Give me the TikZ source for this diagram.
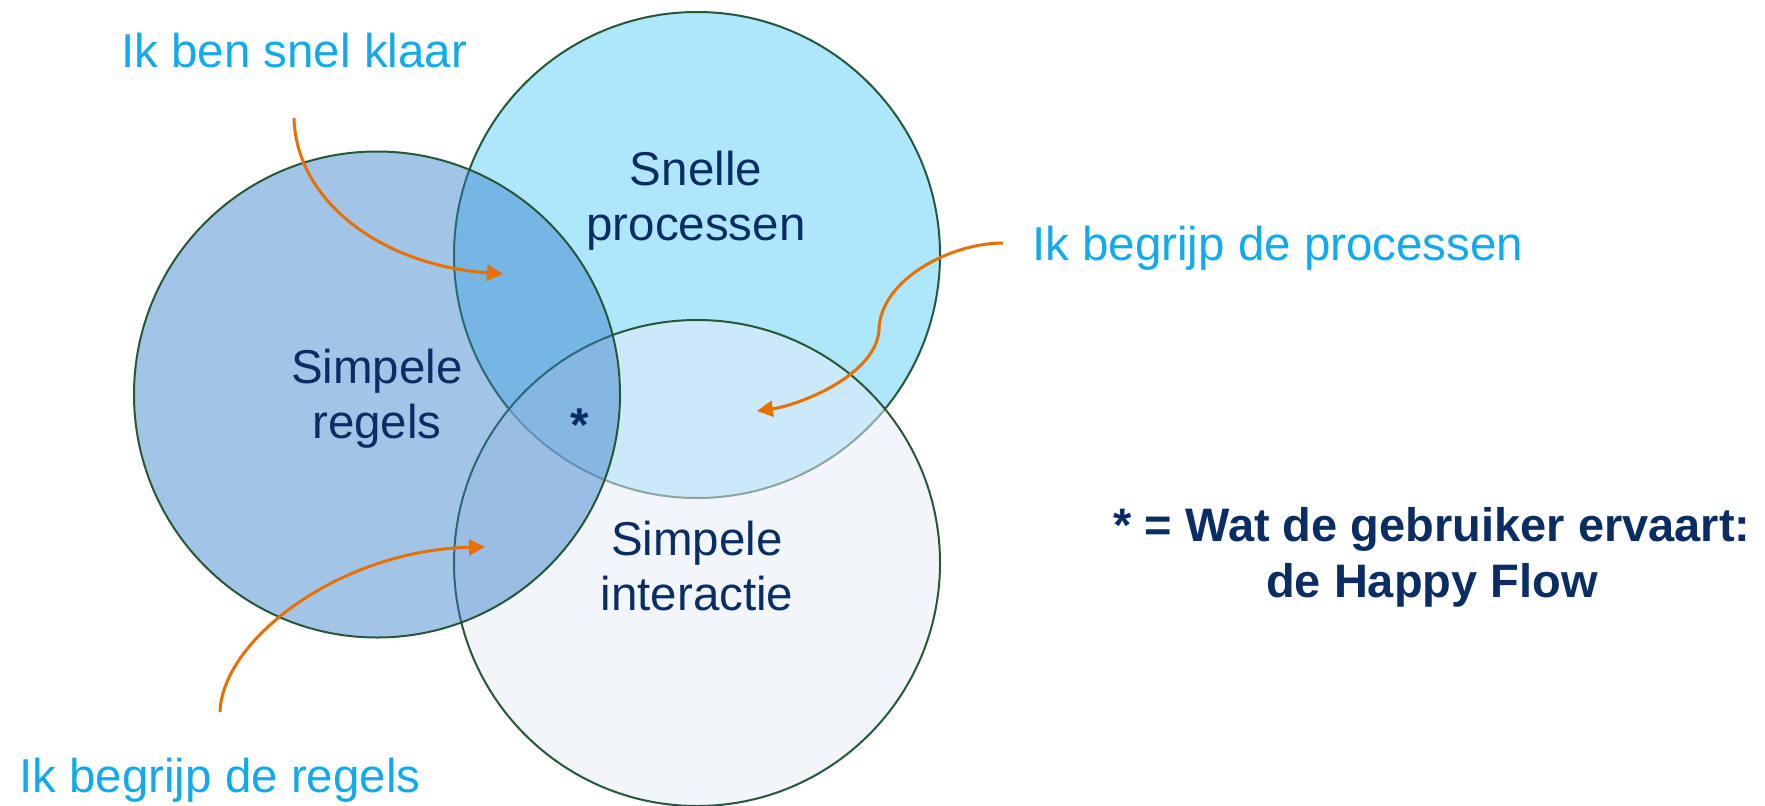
\documentclass[tikz,border=0pt]{standalone}
\usepackage{fontspec}
\setmainfont{Liberation Sans}
\usetikzlibrary{arrows.meta}
\definecolor{topfill}{RGB}{174,230,252}
\definecolor{botfill}{RGB}{230,236,245}
\definecolor{leftfill}{RGB}{49,124,200}
\definecolor{ringc}{RGB}{38,88,56}
\definecolor{arrowc}{RGB}{230,112,0}
\definecolor{cyantext}{RGB}{18,170,235}
\definecolor{navy}{RGB}{10,45,100}
\begin{document}
\begin{tikzpicture}[x=1pt,y=-1pt,
  ring/.style={circle,draw=ringc,line width=2pt,minimum size=486pt,inner sep=0pt},
  cyanlabel/.style={text=cyantext,font=\fontsize{47.5}{55}\selectfont,inner sep=0pt,anchor=base west},
  setlabel/.style={text=navy,font=\fontsize{47.5}{55}\selectfont,align=center,inner sep=0pt},
  pointer/.style={draw=arrowc,line width=3pt,-{Triangle[length=16pt,width=16pt]}}]
\useasboundingbox (0,0) rectangle (1765,806);
\node[ring,fill=topfill] (top) at (697,255) {};
\node[ring,fill=botfill,fill opacity=0.53] (bot) at (697,563) {};
\node[ring,fill=leftfill,fill opacity=0.45] (left) at (377,394.5) {};

\node[setlabel] (t1) at (696,200.5) {Snelle\\processen};
\node[setlabel] (t2) at (377,398.5) {Simpele\\regels};
\node[setlabel] (t3) at (697,566.5) {Simpele\\interactie};
\node[text=navy,font=\bfseries\fontsize{47.5}{55}\selectfont,anchor=base,inner sep=0pt] (star) at (580,441) {*};

\node[cyanlabel] (lab1) at (121,67) {Ik ben snel klaar};
\node[cyanlabel] (lab2) at (1032,260) {Ik begrijp de processen};
\node[cyanlabel] (lab3) at (19,792) {Ik begrijp de regels};

\node[setlabel,font=\bfseries\fontsize{47}{56}\selectfont] (legend) at (1432,557) {* = Wat de gebruiker ervaart:\\de Happy Flow};

\coordinate (a1s) at (294,118);
\coordinate (a1e) at (503,274);
\coordinate (a2s) at (1003,243);
\coordinate (a2m) at (879,330);
\coordinate (a2e) at (757,411);
\coordinate (a3s) at (220,712);
\coordinate (a3e) at (485,547);
\draw[pointer] (a1s) .. controls (296,200) and (380,265) .. (a1e);
\draw[pointer] (a2s) .. controls (950,243) and (880,280) .. (a2m) .. controls (876,375) and (800,405) .. (a2e);
\draw[pointer] (a3s) .. controls (222,640) and (340,550) .. (a3e);
\end{tikzpicture}
\end{document}
